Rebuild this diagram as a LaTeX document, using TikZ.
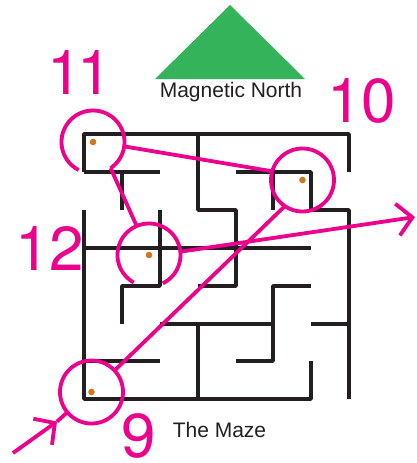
\documentclass[tikz,border=0pt]{standalone}
\usepackage{fontspec}
\setmainfont{Liberation Sans}
\newfontfamily\numfont{TeX Gyre Heros}
\usetikzlibrary{arrows.meta}

\definecolor{mazepink}{HTML}{EC008C}
\definecolor{mazeblack}{HTML}{231F20}
\definecolor{northgreen}{HTML}{34B35A}
\definecolor{dotorange}{HTML}{D2761E}

\tikzset{
  wall/.style={line width=3.4pt, mazeblack, line join=round},
  route/.style={line width=3.8pt, mazepink},
  turn/.style={circle, minimum size=63pt, inner sep=0pt, outer sep=0pt},
  bignum/.style={text=mazepink, font=\numfont\fontsize{62}{62}\selectfont, inner sep=0pt},
  caption/.style={text=mazeblack, font=\fontsize{21}{21}\selectfont, inner sep=0pt},
  barb/.style={-{Straight Barb[length=15pt, width=32pt]}}
}

\begin{document}
\begin{tikzpicture}[x=1pt, y=-1pt]
\useasboundingbox (0,0) rectangle (416,463);

% Magnetic north marker
\fill[northgreen] (155,79) -- (230,5) -- (305,79) -- cycle;
\node[caption] (north) at (231,92) {Magnetic North};
\node[caption] (maze) at (219.5,430) {The Maze};

% Maze walls
\foreach \wallpath in {
    {(84,172) -- (84,134) -- (349,134) -- (349,172)},
    {(84,172) -- (160,172)},
    {(122,172) -- (122,210)},
    {(198,134) -- (198,210) -- (236,210) -- (236,286) -- (198,286)},
    {(236,172) -- (311,172) -- (311,210) -- (349,210) -- (349,399)},
    {(273,172) -- (273,210)},
    {(84,210) -- (84,399) -- (311,399) -- (311,361)},
    {(84,248) -- (311,248)},
    {(160,210) -- (160,286) -- (122,286) -- (122,324)},
    {(160,324) -- (273,324)},
    {(311,286) -- (273,286) -- (273,361) -- (236,361)},
    {(198,324) -- (198,399)},
    {(311,324) -- (349,324)},
    {(84,361) -- (160,361)}} {
  \draw[wall] \wallpath;
}

% Turning points
\node[turn] (c9) at (91.5,392) {};
\node[turn] (c10) at (302.5,180) {};
\node[turn] (c11) at (93,142) {};
\node[turn] (c12) at (149,255) {};
\foreach \c in {c9,c10,c11,c12} {
  \fill[dotorange] (\c) circle (3.3pt);
}

% Circles round the turning points
\draw[route] (c9) circle (31.5pt);
\draw[route] (c10) circle (31.5pt);
\draw[route] (c11.-56) arc [start angle=-56, end angle=243, radius=31.5pt];
\draw[route] (c12.-64) arc [start angle=-64, end angle=241, radius=31.5pt];

% Route through the maze
\coordinate (start) at (13,453);
\coordinate (entry) at (57,421.5);
\coordinate (exit) at (415,217);
\draw[route, barb] (start) -- (entry);
\draw[route] (entry) -- (c9.220);
\draw[route] (c9.43) -- (c10.236);
\draw[route] (c10.164) -- (c11.-8);
\draw[route] (c11.-56) -- (c12.113);
\draw[route, barb] (c12.6) -- (exit);

% Labels
\node[bignum] (lab9) at (138.5,436) {9};
\node[bignum] (lab10) at (361.5,101) {10};
\node[bignum] (lab11) at (79.5,73) {1\kern-4.5pt 1};
\node[bignum] (lab12) at (49.5,249) {12};
\end{tikzpicture}
\end{document}
